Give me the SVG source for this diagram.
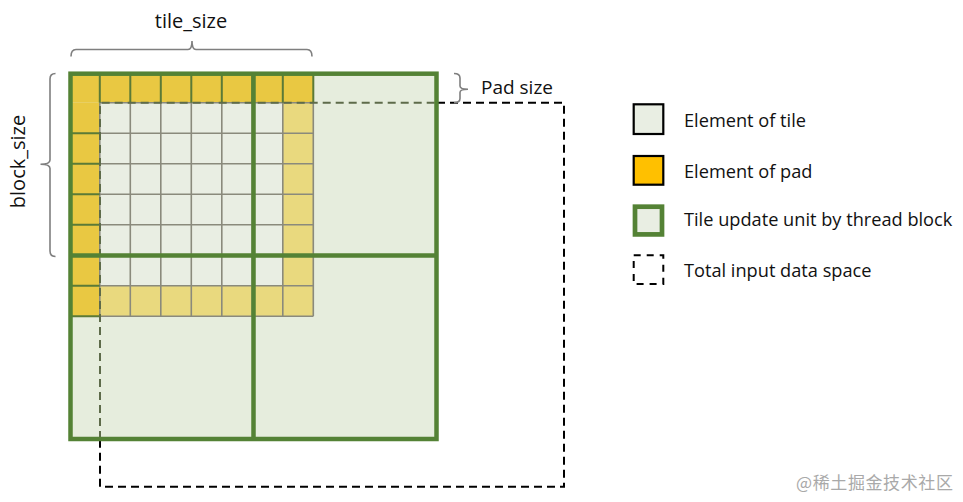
<svg xmlns="http://www.w3.org/2000/svg" width="963" height="502" viewBox="0 0 963 502">
  <style>
    .lbl { font-family: "Open Sans", "Liberation Sans", sans-serif; fill: #111; }
    .grid { stroke: #8a8a7c; stroke-width: 1.6; fill: none; }
    .gdiv { stroke: #5b7a37; stroke-width: 2; fill: none; }
    .frame { stroke: #548235; stroke-width: 4.5; fill: none; }
    .brace { stroke: #7f7f7f; stroke-width: 1.6; fill: none; }
    .dash { stroke-dasharray: 8 5; stroke-width: 2; fill: none; }
  </style>
  <rect width="963" height="502" fill="#ffffff"/>

  <g id="blocks">
    <rect x="70.5" y="73.7" width="366" height="365.3" fill="#e6eddd"/>
  </g>

  <g id="tile-cells">
    <rect x="99.8" y="102.7" width="183" height="183" fill="#e9eee3"/>
  </g>

  <g id="pad-cells">
    <rect x="282.8" y="102.7" width="30.5" height="213.5" fill="#e9d97e"/>
    <rect x="99.8" y="285.7" width="183" height="30.5" fill="#e9d97e"/>
    <rect x="69.3" y="72.2" width="244" height="30.5" fill="#e9c842"/>
    <rect x="69.3" y="102.7" width="30.5" height="213.5" fill="#e9c842"/>
  </g>

  <g id="cell-grid">
    <path class="grid" d="M99.8,102.7V316.2 M130.3,102.7V316.2 M160.8,102.7V316.2 M191.3,102.7V316.2 M221.8,102.7V316.2 M252.3,102.7V316.2 M282.8,102.7V316.2 M313.3,102.7V316.2
      M99.8,102.7H313.3 M99.8,133.2H313.3 M99.8,163.7H313.3 M99.8,194.2H313.3 M99.8,224.7H313.3 M99.8,255.2H313.3 M99.8,285.7H313.3 M99.8,316.2H313.3"/>
    <path class="gdiv" d="M99.8,72.2V102.7 M130.3,72.2V102.7 M160.8,72.2V102.7 M191.3,72.2V102.7 M221.8,72.2V102.7 M252.3,72.2V102.7 M282.8,72.2V102.7 M313.3,72.2V102.7
      M69.3,133.2H99.8 M69.3,163.7H99.8 M69.3,194.2H99.8 M69.3,224.7H99.8 M69.3,255.2H99.8 M69.3,285.7H99.8 M69.3,316.2H99.8"/>
  </g>

  <g id="connectors">
    <path class="dash" stroke="#000" d="M437,102.7H564V486.7H100V441"/>
    <path class="dash" stroke="#5e6b4a" d="M100,439V102.7H437"/>
  </g>

  <g id="frame">
    <rect class="frame" x="70.5" y="73.7" width="366" height="365.3"/>
    <path class="frame" d="M253.5,73.7V439 M70.5,255.5H436.5"/>
  </g>

  <g id="tile-size-brace">
    <path class="brace" d="M71,56.5 Q71,49.5 76,49.5 H188 Q192,49.5 192,41 Q192,49.5 196,49.5 H307 Q312,49.5 312,56.5"/>
    <text class="lbl" x="191" y="27.7" font-size="20" text-anchor="middle">tile_size</text>
  </g>

  <g id="block-size-brace">
    <path class="brace" d="M55.5,73.5 Q50,73.5 50,79 V160 Q50,164.3 40.5,164.3 Q50,164.3 50,168.5 V251 Q50,256.5 55.5,256.5"/>
    <text class="lbl" transform="translate(25,161.5) rotate(-90)" font-size="20" text-anchor="middle">block_size</text>
  </g>

  <g id="pad-size-brace">
    <path class="brace" d="M454,73.5 Q460,73.5 460,78 V86 Q460,89.3 468,89.3 Q460,89.3 460,92.5 V98.5 Q460,102.7 454,102.7"/>
    <text class="lbl" x="481" y="93.5" font-size="19">Pad size</text>
  </g>

  <g id="legend">
    <g id="legend-tile">
      <rect x="633.7" y="104.3" width="29.6" height="29.7" fill="#e9eee3" stroke="#000" stroke-width="2.2"/>
      <text class="lbl" x="684" y="126.7" font-size="18.2">Element of tile</text>
    </g>
    <g id="legend-pad">
      <rect x="633.7" y="156" width="29.6" height="28.7" fill="#ffc000" stroke="#000" stroke-width="2.2"/>
      <text class="lbl" x="684" y="177.7" font-size="18.2">Element of pad</text>
    </g>
    <g id="legend-block">
      <rect x="635" y="206.7" width="27" height="27.7" fill="#e9eee3" stroke="#548235" stroke-width="4.7"/>
      <text class="lbl" x="684" y="225.7" font-size="18.2">Tile update unit by thread block</text>
    </g>
    <g id="legend-space">
      <rect x="633.7" y="255.3" width="29.6" height="28.7" fill="none" stroke="#000" stroke-width="2" stroke-dasharray="7 6"/>
      <text class="lbl" x="684" y="276.7" font-size="18.2">Total input data space</text>
    </g>
  </g>

  <text x="796" y="489" font-size="17" letter-spacing="0.6" fill="#a9a9a9" font-family="'Noto Sans CJK SC', 'Noto Sans', sans-serif">@稀土掘金技术社区</text>
</svg>
